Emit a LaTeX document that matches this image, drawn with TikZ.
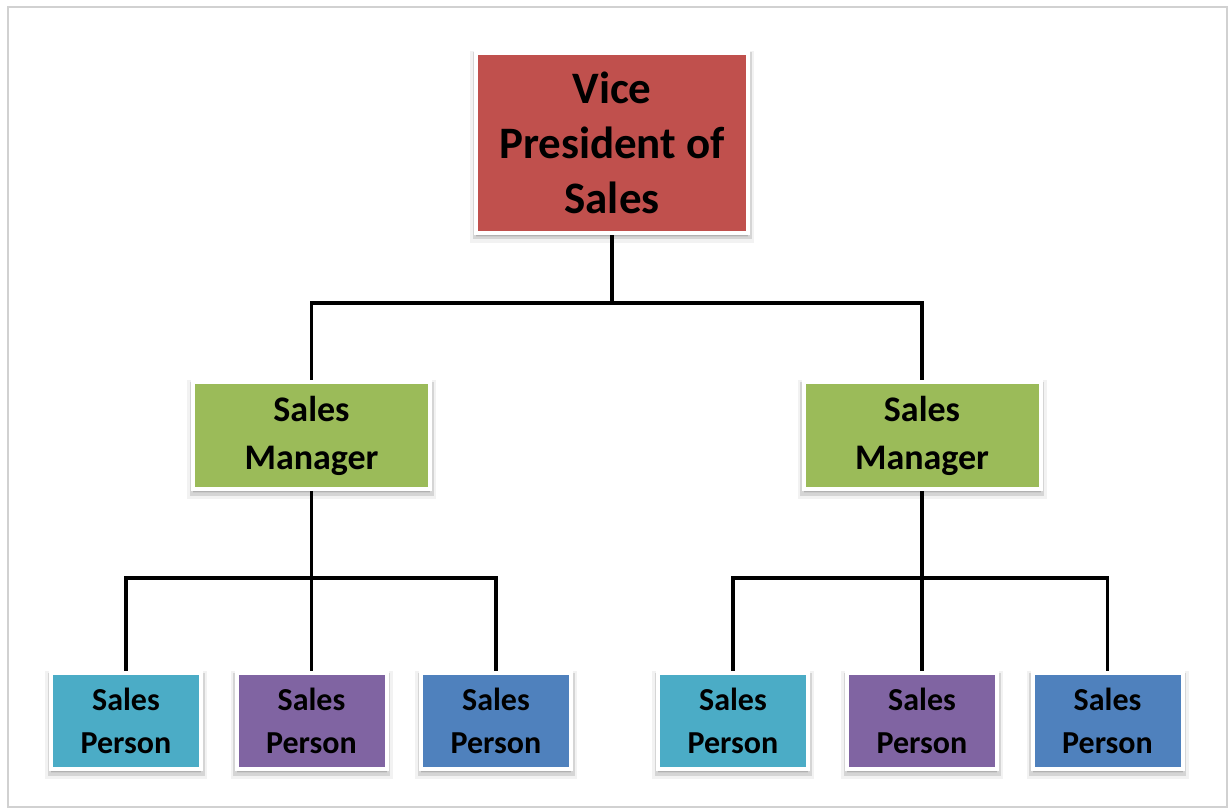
\documentclass[tikz,border=0pt]{standalone}
\usepackage{fontspec}
\setmainfont{Carlito}
\usetikzlibrary{shadows,backgrounds}
\definecolor{vpred}{HTML}{C0504D}
\definecolor{mgrgreen}{HTML}{9BBB59}
\definecolor{spcyan}{HTML}{4BACC6}
\definecolor{sppurple}{HTML}{8064A2}
\definecolor{spblue}{HTML}{4F81BD}
\tikzset{
  orgbox/.style={draw=white, line width=4pt, align=center, text=black,
    font=\bfseries, inner sep=0pt,
    general shadow={shadow yshift=-4pt, fill=black, draw=black, line width=12pt, opacity=0.05},
    general shadow={shadow yshift=-3pt, fill=black, draw=black, line width=7pt, opacity=0.12}},
  vpbox/.style={orgbox, fill=vpred, minimum width=272pt, minimum height=180pt,
    font=\bfseries\fontsize{45}{55}\selectfont},
  mgrbox/.style={orgbox, fill=mgrgreen, minimum width=237pt, minimum height=107pt,
    font=\bfseries\fontsize{36}{48}\selectfont},
  spbox/.style={orgbox, minimum width=150pt, minimum height=96pt,
    font=\bfseries\fontsize{32}{43}\selectfont},
  conn/.style={draw=black, line width=3.5pt},
  frame/.style={draw=black!18, line width=1.5pt}
}
\begin{document}
\begin{tikzpicture}[x=1pt,y=-1pt]
  \useasboundingbox (0,0) rectangle (1230,810);
  % page frame
  \draw[frame] (8,7) rectangle (1227,807);

  % top level
  \node[vpbox] (vp) at (612,143) {Vice\\President of\\Sales};

  % managers
  \node[mgrbox] (sm1) at (311.5,435.5) {Sales\\Manager};
  \node[mgrbox] (sm2) at (922,435.5) {Sales\\Manager};

  % sales people
  \node[spbox, fill=spcyan]   (sp1) at (126,721)   {Sales\\Person};
  \node[spbox, fill=sppurple] (sp2) at (311.5,721) {Sales\\Person};
  \node[spbox, fill=spblue]   (sp3) at (496,721)   {Sales\\Person};
  \node[spbox, fill=spcyan]   (sp4) at (733,721)   {Sales\\Person};
  \node[spbox, fill=sppurple] (sp5) at (922,721)   {Sales\\Person};
  \node[spbox, fill=spblue]   (sp6) at (1107.5,721) {Sales\\Person};

  % junction points of the connectors
  \coordinate (bus0) at (612,303);
  \coordinate (bus1) at (311.5,578);
  \coordinate (bus2) at (922,578);

  \begin{scope}[on background layer]
    \draw[conn] (vp.south) -- (bus0);
    \draw[conn] (bus0) -| (sm1.north);
    \draw[conn] (bus0) -| (sm2.north);

    \draw[conn] (sm1.south) -- (bus1);
    \draw[conn] (bus1) -| (sp1.north);
    \draw[conn] (bus1) -- (sp2.north);
    \draw[conn] (bus1) -| (sp3.north);

    \draw[conn] (sm2.south) -- (bus2);
    \draw[conn] (bus2) -| (sp4.north);
    \draw[conn] (bus2) -- (sp5.north);
    \draw[conn] (bus2) -| (sp6.north);
  \end{scope}
\end{tikzpicture}
\end{document}
